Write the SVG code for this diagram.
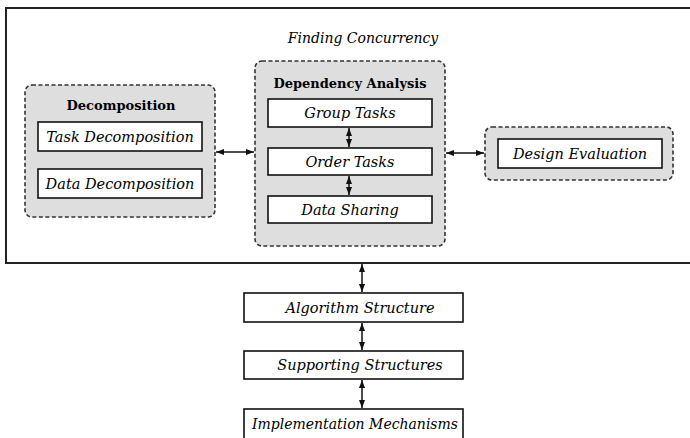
<svg xmlns="http://www.w3.org/2000/svg" width="690" height="438" viewBox="0 0 690 438">
<defs>
<marker id="ah" viewBox="0 0 8 6" refX="8" refY="3" markerWidth="8" markerHeight="6" markerUnits="userSpaceOnUse" orient="auto-start-reverse">
<path d="M0,0 L8,3 L0,6 Z" fill="#111"/>
</marker>
<style>
.grp{fill:#dedede;stroke:#333;stroke-width:1.6;stroke-dasharray:4 2.5}
.box{fill:#fff;stroke:#111;stroke-width:1.6}
.lbl{font-family:"DejaVu Serif","Liberation Serif",serif;font-style:italic;font-size:14.5px;fill:#000;text-anchor:middle}
.hdr{font-family:"DejaVu Serif","Liberation Serif",serif;font-weight:bold;font-size:13px;fill:#000;text-anchor:middle}
.con{stroke:#111;stroke-width:1.5;fill:none;marker-start:url(#ah);marker-end:url(#ah)}
.frame{fill:none;stroke:#222;stroke-width:2}
</style>
</defs>
<g id="finding-concurrency">
<path class="frame" d="M694 8 H6 V263 H694"/>
<text class="lbl" x="363" y="43" style="font-size:14px">Finding Concurrency</text>
</g>
<g id="decomposition">
<rect class="grp" x="25" y="85" width="190" height="132" rx="7"/>
<text class="hdr" x="121" y="110">Decomposition</text>
</g>
<g id="task-decomposition">
<rect class="box" x="38" y="122" width="164" height="29"/>
<text class="lbl" x="120" y="142">Task Decomposition</text>
</g>
<g id="data-decomposition">
<rect class="box" x="38" y="169" width="164" height="29"/>
<text class="lbl" x="120" y="189">Data Decomposition</text>
</g>
<g id="dependency-analysis">
<rect class="grp" x="255" y="61" width="190" height="185" rx="7"/>
<text class="hdr" x="350" y="88">Dependency Analysis</text>
</g>
<g id="group-tasks">
<rect class="box" x="268" y="99" width="164" height="28"/>
<text class="lbl" x="350" y="118">Group Tasks</text>
</g>
<g id="order-tasks">
<rect class="box" x="268" y="148" width="164" height="27"/>
<text class="lbl" x="350" y="167">Order Tasks</text>
</g>
<g id="data-sharing">
<rect class="box" x="268" y="196" width="164" height="27"/>
<text class="lbl" x="350" y="215">Data Sharing</text>
</g>
<g id="design-evaluation-group">
<rect class="grp" x="485" y="127" width="188" height="53" rx="7"/>
</g>
<g id="design-evaluation">
<rect class="box" x="498" y="139" width="164" height="29"/>
<text class="lbl" x="580" y="159">Design Evaluation</text>
</g>
<g id="algorithm-structure">
<rect class="box" x="244" y="293" width="219" height="29"/>
<text class="lbl" x="360" y="313">Algorithm Structure</text>
</g>
<g id="supporting-structures">
<rect class="box" x="244" y="351" width="219" height="28"/>
<text class="lbl" x="360" y="370">Supporting Structures</text>
</g>
<g id="implementation-mechanisms">
<rect class="box" x="244" y="409" width="219" height="40"/>
<text class="lbl" x="355" y="429" style="font-size:14px">Implementation Mechanisms</text>
</g>
<g id="connectors">
<line class="con" x1="216" y1="152" x2="254" y2="152"/>
<line class="con" x1="446" y1="153" x2="484" y2="153"/>
<line class="con" x1="349" y1="128" x2="349" y2="147"/>
<line class="con" x1="349" y1="176" x2="349" y2="195"/>
<line class="con" x1="362" y1="264" x2="362" y2="292"/>
<line class="con" x1="362" y1="323" x2="362" y2="350"/>
<line class="con" x1="362" y1="380" x2="362" y2="408"/>
</g>
</svg>
